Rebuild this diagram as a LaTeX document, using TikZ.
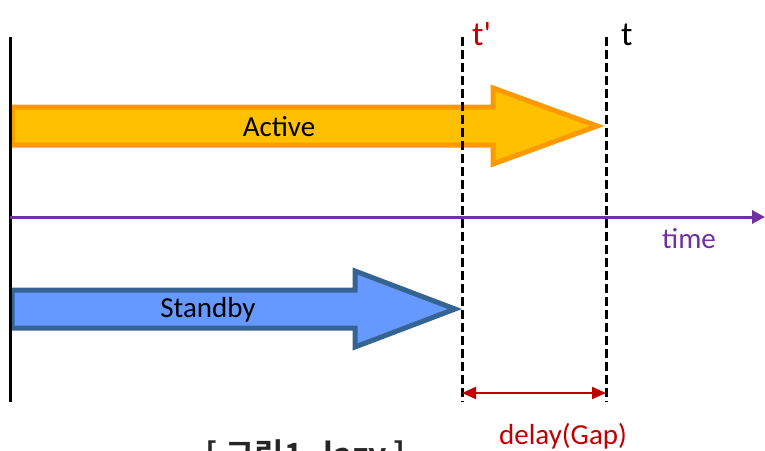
\documentclass[tikz,border=0pt]{standalone}
\usepackage{fontspec}
\setmainfont{Carlito}
\newfontfamily\krfont{Noto Sans CJK KR Bold}
\usetikzlibrary{arrows.meta}
\definecolor{actfill}{RGB}{255,192,0}
\definecolor{actline}{RGB}{255,153,0}
\definecolor{sbfill}{RGB}{102,153,255}
\definecolor{sbline}{RGB}{54,100,146}
\definecolor{tpurple}{RGB}{112,48,160}
\definecolor{dred}{RGB}{192,0,0}
\begin{document}
\begin{tikzpicture}[x=1pt,y=-1pt,
  bigarrow/.style={line width=5pt, line join=miter},
  label/.style={font=\fontsize{29}{31}\selectfont, inner sep=0pt},
  timeline/.style={line width=3pt},
  guide/.style={line width=3pt, dash pattern=on 9pt off 4pt}]
\useasboundingbox (0,0) rectangle (765,450);
\clip (0,0) rectangle (765,450);
% active arrow
\draw[bigarrow, draw=actline, fill=actfill] (12,107) -- (493,107) -- (493,88) -- (597,126) -- (493,164) -- (493,145) -- (12,145) -- cycle;
\node[label] (active) at (279,127) {Active};
% standby arrow
\draw[bigarrow, draw=sbline, fill=sbfill] (12,290) -- (355,290) -- (355,271) -- (455,309) -- (355,347) -- (355,328) -- (12,328) -- cycle;
\node[label] (standby) at (208,310) {Standby};
% coordinates
\coordinate (l0) at (10,37); \coordinate (l1) at (10,402);
\coordinate (a0) at (462,37); \coordinate (a1) at (462,402);
\coordinate (b0) at (606,37); \coordinate (b1) at (606,402);
\coordinate (p0) at (10,217); \coordinate (p1) at (765,217);
\coordinate (d0) at (462,393); \coordinate (d1) at (606,393);
% left line
\draw[timeline, black] (l0) -- (l1);
% dashed guides
\draw[guide] (a0) -- (a1);
\draw[guide] (b0) -- (b1);
% time axis
\draw[timeline, tpurple, -{Triangle[length=13pt,width=13pt]}] (p0) -- (p1);
\node[label, text=tpurple] (time) at (689,239) {time};
% t labels
\node[font=\fontsize{34}{36}\selectfont, text=dred, anchor=base west, inner sep=0pt] (tp) at (472,45) {t\textquotesingle};
\node[font=\fontsize{34}{36}\selectfont, anchor=base west, inner sep=0pt] (tt) at (621,45) {t};
% delay
\draw[line width=2pt, dred, {Triangle[length=14pt,width=12pt]}-{Triangle[length=14pt,width=12pt]}] (d0) -- (d1);
\node[label, text=dred] (delay) at (563,436) {delay(Gap)};
% caption
\node[font=\krfont\fontsize{32}{34}\selectfont, anchor=base, inner sep=0pt, text=black!85] (cap) at (306,466) {[ 그림1. lazy ]};
\end{tikzpicture}
\end{document}
